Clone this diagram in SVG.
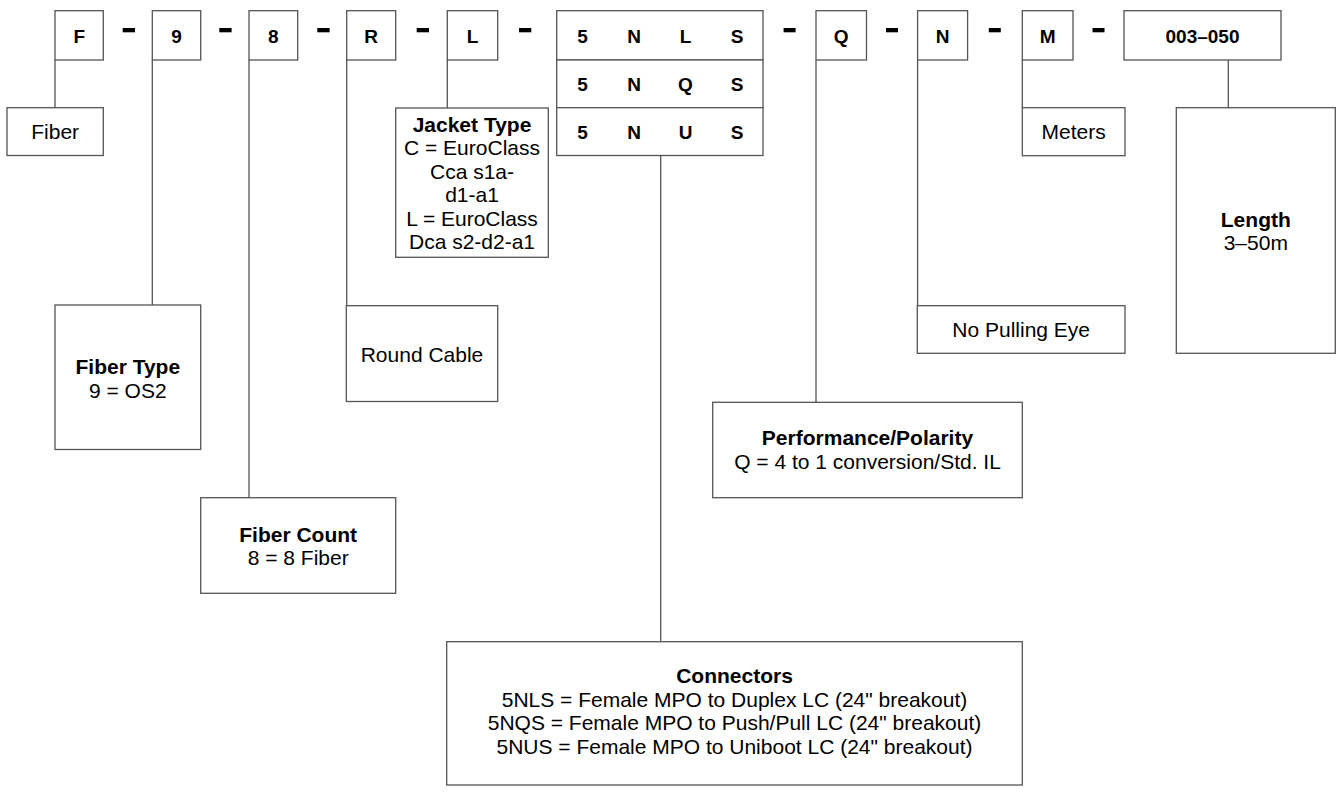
<svg xmlns="http://www.w3.org/2000/svg" width="1340" height="794" viewBox="0 0 1340 794">
<style>
.b{fill:#fff;stroke:#555;stroke-width:1.3}
.c{fill:none;stroke:#555;stroke-width:1.3}
.d{fill:#000}
text{font-family:"Liberation Sans",Arial,Helvetica,sans-serif;fill:#000;text-anchor:middle}
.k{font-size:19px;font-weight:bold}
.t{font-size:21px}
.h{font-size:21px;font-weight:bold}
</style>
<rect x="0" y="0" width="1340" height="794" fill="#fff"/>
<g id="connectors">
<path class="c" d="M55 60V108M152.3 60V305M249 60V497.7M346.7 60V305.7M447.3 60V108M660.7 155.5V641.7M816 60V402.3M917.6 60V305.7M1022.3 60V107.7M1228.3 60V107.7"/>
</g>
<g id="dashes">
<rect class="d" x="122.7" y="28" width="12.3" height="4.3"/>
<rect class="d" x="219.3" y="28" width="12.3" height="4.3"/>
<rect class="d" x="317.3" y="28" width="12.3" height="4.3"/>
<rect class="d" x="416.7" y="28" width="12.3" height="4.3"/>
<rect class="d" x="519" y="28" width="12.3" height="4.3"/>
<rect class="d" x="783.6" y="28" width="12" height="4.3"/>
<rect class="d" x="886" y="28" width="12" height="4.3"/>
<rect class="d" x="988.8" y="28" width="12" height="4.3"/>
<rect class="d" x="1092.5" y="28" width="12" height="4.3"/>
</g>
<g id="code-F"><rect class="b" x="55" y="10.7" width="48.3" height="49.3"/><text class="k" x="79.2" y="42.5">F</text></g>
<g id="code-9"><rect class="b" x="152.3" y="10.7" width="48.4" height="49.3"/><text class="k" x="176.5" y="42.5">9</text></g>
<g id="code-8"><rect class="b" x="249" y="10.7" width="48.7" height="49.3"/><text class="k" x="273.3" y="42.5">8</text></g>
<g id="code-R"><rect class="b" x="346.7" y="10.7" width="49" height="49.3"/><text class="k" x="371.2" y="42.5">R</text></g>
<g id="code-L"><rect class="b" x="447.3" y="10.7" width="50.4" height="49.3"/><text class="k" x="472.5" y="42.5">L</text></g>
<g id="code-5N">
<rect class="b" x="556.7" y="10.7" width="206.3" height="49.3"/>
<rect class="b" x="556.7" y="60" width="206.3" height="47.7"/>
<rect class="b" x="556.7" y="107.7" width="206.3" height="47.8"/>
<text class="k" x="582.5" y="42.5">5</text><text class="k" x="634" y="42.5">N</text><text class="k" x="685.5" y="42.5">L</text><text class="k" x="737" y="42.5">S</text>
<text class="k" x="582.5" y="91">5</text><text class="k" x="634" y="91">N</text><text class="k" x="685.5" y="91">Q</text><text class="k" x="737" y="91">S</text>
<text class="k" x="582.5" y="138.7">5</text><text class="k" x="634" y="138.7">N</text><text class="k" x="685.5" y="138.7">U</text><text class="k" x="737" y="138.7">S</text>
</g>
<g id="code-Q"><rect class="b" x="816" y="10.7" width="50.5" height="49.3"/><text class="k" x="841.2" y="42.5">Q</text></g>
<g id="code-N"><rect class="b" x="917.6" y="10.7" width="50" height="49.3"/><text class="k" x="942.6" y="42.5">N</text></g>
<g id="code-M"><rect class="b" x="1022.3" y="10.7" width="50.7" height="49.3"/><text class="k" x="1047.6" y="42.5">M</text></g>
<g id="code-len"><rect class="b" x="1124" y="10.7" width="157" height="49.3"/><text class="k" x="1202.5" y="42.5">003–050</text></g>

<g id="fiber"><rect class="b" x="7" y="107.7" width="96.3" height="47.8"/><text class="t" x="55.2" y="139">Fiber</text></g>
<g id="fiber-type"><rect class="b" x="55" y="305" width="145.7" height="144.5"/><text class="h" x="127.8" y="374">Fiber Type</text><text class="t" x="127.8" y="397.6">9 = OS2</text></g>
<g id="fiber-count"><rect class="b" x="200.7" y="497.7" width="195" height="95.6"/><text class="h" x="298.2" y="541.7">Fiber Count</text><text class="t" x="298.2" y="565.3">8 = 8 Fiber</text></g>
<g id="round-cable"><rect class="b" x="346.3" y="305.7" width="151.4" height="95.8"/><text class="t" x="422" y="361.5">Round Cable</text></g>
<g id="jacket"><rect class="b" x="395.7" y="108" width="152.6" height="149.3"/>
<text class="h" x="472" y="131.7">Jacket Type</text>
<text class="t" x="472" y="155.2">C = EuroClass</text>
<text class="t" x="472" y="178.7">Cca s1a-</text>
<text class="t" x="472" y="202.2">d1-a1</text>
<text class="t" x="472" y="225.7">L = EuroClass</text>
<text class="t" x="472" y="249.2">Dca s2-d2-a1</text></g>
<g id="connectors-box"><rect class="b" x="446.7" y="641.7" width="575.6" height="143.3"/>
<text class="h" x="734.5" y="683">Connectors</text>
<text class="t" x="734.5" y="706.6">5NLS = Female MPO to Duplex LC (24" breakout)</text>
<text class="t" x="734.5" y="730.2">5NQS = Female MPO to Push/Pull LC (24" breakout)</text>
<text class="t" x="734.5" y="753.8">5NUS = Female MPO to Uniboot LC (24" breakout)</text></g>
<g id="performance"><rect class="b" x="712.7" y="402.3" width="309.6" height="95.4"/><text class="h" x="867.5" y="445">Performance/Polarity</text><text class="t" x="867.5" y="468.6">Q = 4 to 1 conversion/Std. IL</text></g>
<g id="pulling-eye"><rect class="b" x="917.3" y="305.7" width="207.7" height="47.6"/><text class="t" x="1021.2" y="337">No Pulling Eye</text></g>
<g id="meters"><rect class="b" x="1022.3" y="107.7" width="102.7" height="48"/><text class="t" x="1073.6" y="139">Meters</text></g>
<g id="length"><rect class="b" x="1176.3" y="107.7" width="159" height="245.6"/><text class="h" x="1255.8" y="226.7">Length</text><text class="t" x="1255.8" y="250.3">3–50m</text></g>
</svg>
